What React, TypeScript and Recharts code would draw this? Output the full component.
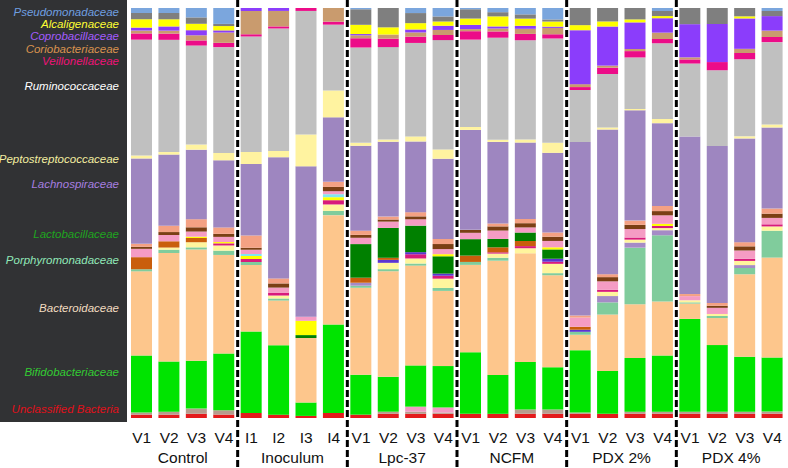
import { BarChart, Bar, XAxis, YAxis } from "recharts";

// sample groups and the tick label of every bar
const groups = ["Control", "Inoculum", "Lpc-37", "NCFM", "PDX 2%", "PDX 4%"];
const sampleLabels = [
  "V1", "V2", "V3", "V4",
  "I1", "I2", "I3", "I4",
  "V1", "V2", "V3", "V4",
  "V1", "V2", "V3", "V4",
  "V1", "V2", "V3", "V4",
  "V1", "V2", "V3", "V4",
];

// relative abundance (%) per sample, stacked bottom -> top
const unclassified = [0.8, 0.8, 1.0, 0.8, 1.2, 0.8, 0.5, 1.2, 0.8, 1.0, 1.0, 1.0, 1.0, 1.0, 1.0, 1.0, 1.0, 1.0, 1.0, 1.0, 1.0, 1.0, 1.0, 1.0];
const otherLow = [0.5, 0.7, 1.2, 1.0, 0, 0, 0, 0, 0, 0.5, 0.5, 0.3, 0, 0, 1.0, 1.0, 0.3, 0, 0.5, 0.5, 0.5, 0.5, 0.5, 0.5];
const lowPink = [0, 0, 0, 0, 0, 0, 0, 0, 0, 0, 1.2, 1.2, 0, 0, 0, 0, 0, 0, 0, 0, 0, 0, 0, 0];
const bifido = [13.7, 12, 11.2, 13.2, 19.5, 16.6, 3.2, 20.7, 9.5, 8.3, 9.8, 9.8, 14.6, 9.3, 11.2, 10, 14.9, 10.2, 12.7, 13.2, 22.4, 16.3, 13.2, 12.7];
const bactero = [20.2, 25.9, 26.1, 22.9, 15.9, 10.7, 15.4, 25.6, 20.7, 25.1, 23.7, 17.8, 20.7, 27.3, 25.6, 21.7, 3.7, 13.4, 12.7, 12.7, 3.7, 6.6, 19.8, 23.4];
const porphyro = [0.5, 0.8, 0.5, 1.0, 0.7, 0.5, 0, 1.0, 0.5, 0.5, 0.5, 0.7, 0.7, 0.7, 0, 0.5, 0.7, 2.9, 13.4, 15.6, 0.3, 0.5, 1.5, 6.3];
const lowLavender = [0, 0, 0, 0, 0, 0, 0, 0, 0.7, 0, 0, 0, 0, 0, 0, 0, 0, 1.5, 1.2, 1.2, 0, 0, 0.7, 0];
const paleYellow = [0, 0.5, 1.2, 1.2, 0, 0.7, 0, 1.5, 0, 1.5, 1.2, 2.2, 0, 1.0, 1.2, 2.2, 0, 1.0, 0.7, 0.5, 0.5, 0.5, 1.0, 1.0];
const lowMagenta = [0, 0, 0, 0.5, 0.7, 0.7, 0, 1.0, 0, 0, 1.0, 0.7, 0, 0.3, 0.5, 0.5, 0, 0.5, 0.5, 0.5, 0, 0, 0.5, 0.5];
const lowPurple = [0, 0, 0, 0, 0, 0, 0, 0, 0, 0.7, 0.5, 0.5, 0, 0, 0, 0.7, 0.5, 0, 0, 0, 0, 0, 0, 0];
const orange = [2.9, 1.5, 1.0, 0, 0, 0, 0, 0, 1.2, 0.5, 0, 0, 1.5, 1.2, 1.2, 0, 0.7, 0, 0, 0, 0, 0, 0, 0];
const lacto = [0, 0, 0, 0, 0, 0, 0.7, 0, 8.0, 7.1, 6.3, 4.1, 3.9, 2.0, 2.0, 2.2, 0, 0, 0, 0, 0, 0, 0, 0];
const lowYellow = [0, 0, 0.3, 0.3, 0.7, 0, 3.4, 0.7, 0, 0, 0, 0.5, 0, 0, 0, 0.5, 0, 0, 0, 0.5, 0, 0, 0, 0];
const cyan = [0, 0, 0, 0, 0.5, 0, 0, 0.7, 0, 0, 0, 0, 0, 0, 0, 0, 0, 0, 0, 0, 0, 0, 0, 0];
const pink = [2.0, 1.5, 1.2, 1.2, 1.0, 1.2, 1.0, 0.7, 1.5, 1.5, 1.5, 1.2, 1.5, 2.0, 1.2, 1.5, 2.2, 2.0, 2.0, 2.0, 1.0, 1.5, 2.0, 1.5];
const brown = [0.5, 0.7, 1.0, 0.7, 0.5, 1.0, 0, 1.0, 0.7, 0.5, 0.7, 1.2, 0.7, 1.0, 1.0, 1.0, 0, 1.0, 1.0, 1.0, 0, 0.5, 1.0, 1.0];
const salmon = [0.7, 1.5, 1.9, 1.5, 2.9, 1.2, 0, 1.2, 1.0, 0.7, 1.0, 1.2, 0, 0.7, 1.0, 1.0, 0.5, 0.7, 1.0, 1.2, 0.5, 0.7, 1.0, 1.2];
const lachno = [20.5, 17, 16.3, 15.6, 17.1, 29, 35.9, 15.1, 20.2, 17.8, 16.8, 19, 23.7, 19.5, 18, 18.8, 41.5, 34.4, 26.1, 19.5, 38, 38.3, 24.9, 19];
const pepto = [0.7, 0.6, 1.2, 1.7, 2.9, 1.5, 7.6, 6.3, 0.7, 0.5, 1.2, 2.2, 0.7, 0.5, 0.7, 2.4, 0, 0.5, 0.3, 1.0, 0, 0, 0.5, 0.7];
const rumino = [27.8, 26.8, 23.2, 24.6, 27.6, 29.3, 29.5, 15.4, 22.7, 22, 22.2, 25.9, 20.7, 24.4, 23.4, 24.6, 12.4, 12.7, 12.2, 17.8, 17.6, 18.5, 18.5, 19.3];
const veillo = [1.5, 1.5, 1.2, 1.0, 0.5, 0.5, 0.7, 0.7, 2.2, 2.0, 1.5, 1.2, 2.0, 1.5, 1.5, 1.0, 0.7, 1.5, 1.5, 1.0, 1.0, 2.0, 1.5, 1.2];
const corio = [0.7, 0.7, 1.2, 2.4, 5.6, 3.7, 0, 3.2, 0.7, 1.0, 1.0, 1.2, 0.5, 0.7, 1.2, 1.5, 0.7, 0.5, 0.5, 1.5, 0.5, 0, 1.0, 1.5];
const copro = [0.7, 1.0, 1.2, 0.5, 0.7, 0.7, 0, 0, 0.3, 0, 0.7, 1.0, 1.0, 0.5, 0.7, 0.3, 12.9, 9.3, 6.3, 3.4, 8.0, 9.3, 7.3, 3.4];
const alcali = [2.0, 1.7, 1.5, 1.0, 0, 0, 0, 0, 2.2, 1.7, 1.5, 1.0, 1.5, 2.4, 1.7, 1.2, 1.2, 1.2, 0.7, 0.5, 0, 0, 0.5, 0];
const darkGrey = [1.5, 1.5, 1.5, 0.5, 0, 0, 0, 0, 3.7, 4.6, 2.4, 1.2, 2.2, 1.0, 1.0, 0.5, 4.1, 3.2, 2.7, 1.2, 3.9, 3.9, 2.0, 1.2];
const pseudo = [1.2, 1.2, 2.2, 3.7, 0, 0, 0, 0, 0.3, 0, 1.2, 2.0, 0.3, 1.0, 1.5, 2.7, 0, 0, 0, 0.7, 0, 0, 0, 0.7];

const taxa = [
  { key: "unclassified", color: "#e41a1c", values: unclassified },
  { key: "otherLow", color: "#b79c8e", values: otherLow },
  { key: "lowPink", color: "#f29bc4", values: lowPink },
  { key: "bifido", color: "#00e400", values: bifido },
  { key: "bactero", color: "#fdc68c", values: bactero },
  { key: "porphyro", color: "#80cc9c", values: porphyro },
  { key: "lowLavender", color: "#a58bc6", values: lowLavender },
  { key: "paleYellow", color: "#fff59d", values: paleYellow },
  { key: "lowMagenta", color: "#d81b7c", values: lowMagenta },
  { key: "lowPurple", color: "#5b35d0", values: lowPurple },
  { key: "orange", color: "#c95e0c", values: orange },
  { key: "lacto", color: "#008000", values: lacto },
  { key: "lowYellow", color: "#ffff00", values: lowYellow },
  { key: "cyan", color: "#7fe8ee", values: cyan },
  { key: "pink", color: "#f59cc4", values: pink },
  { key: "brown", color: "#7b3f14", values: brown },
  { key: "salmon", color: "#f4a183", values: salmon },
  { key: "lachno", color: "#9e86c0", values: lachno },
  { key: "pepto", color: "#fff3a0", values: pepto },
  { key: "rumino", color: "#c0c0c0", values: rumino },
  { key: "veillo", color: "#ec0c88", values: veillo },
  { key: "corio", color: "#c99b6e", values: corio },
  { key: "copro", color: "#8b3dfb", values: copro },
  { key: "alcali", color: "#ffff00", values: alcali },
  { key: "darkGrey", color: "#7f7f7f", values: darkGrey },
  { key: "pseudo", color: "#7ba6dd", values: pseudo },
];

// names shown in the dark side panel, top to bottom
const legendNames = [
  "Pseudomonadaceae", "Alcaligenaceae", "Coprobacillaceae", "Coriobacteriaceae",
  "Veillonellaceae", "Ruminococcaceae", "Peptostreptococcaceae", "Lachnospiraceae",
  "Lactobacillaceae", "Porphyromonadaceae", "Bacteroidaceae", "Bifidobacteriaceae",
  "Unclassified Bacteria",
];
const legendColors = [
  "#6f9fe0", "#ffff33", "#a45cff", "#d9934f", "#ee1278", "#ffffff", "#f3eea0",
  "#a77fe0", "#1fa51f", "#90e8b8", "#f2dcc0", "#33cc33", "#e0101a",
];
const legendTop = [12, 24, 36, 49, 61, 86, 159, 184, 234, 260, 308, 372, 409];

const W = 788;
const H = 468;
const margin = { top: 8, right: 2, bottom: 0, left: 128 };
const band = (W - margin.left - margin.right) / sampleLabels.length;
const font = "'Liberation Sans', Arial, sans-serif";

const data = sampleLabels.map((label, i) => {
  const row: Record<string, string | number> = {
    id: groups[Math.floor(i / 4)] + " " + label,
  };
  taxa.forEach((t) => {
    row[t.key] = t.values[i];
  });
  return row;
});

function SampleTick(props: any) {
  const { x, y, payload } = props;
  const i = payload.index;
  return (
    <g>
      <text x={x} y={y + 17} textAnchor="middle" fontSize={15.5} fill="#111" fontFamily={font}>
        {sampleLabels[i]}
      </text>
      {i % 4 === 0 && (
        <text x={x + band * 1.5} y={y + 37} textAnchor="middle" fontSize={15.5} fill="#111" fontFamily={font}>
          {groups[i / 4]}
        </text>
      )}
      {i % 4 === 3 && i < sampleLabels.length - 1 && (
        <line
          x1={x + band / 2}
          x2={x + band / 2}
          y1={0}
          y2={H}
          stroke="#000"
          strokeWidth={3}
          strokeDasharray="7 3"
        />
      )}
    </g>
  );
}

export default function App() {
  return (
    <div style={{ position: "absolute", left: 0, top: 0, width: W, height: H, background: "#fff" }}>
      <div
        style={{
          position: "absolute",
          left: 0,
          top: 0,
          width: 127,
          height: 422,
          background: "#313234",
        }}
      >
        {legendNames.map((name, i) => (
          <div
            key={name}
            style={{
              position: "absolute",
              right: 8,
              top: legendTop[i] - 7,
              fontFamily: font,
              fontStyle: "italic",
              fontSize: 11.5,
              lineHeight: "14px",
              whiteSpace: "nowrap",
              color: legendColors[i],
            }}
          >
            {name}
          </div>
        ))}
      </div>
      <div style={{ position: "absolute", left: 0, top: 0 }}>
        <BarChart width={W} height={H} data={data} margin={margin} stackOffset="expand" barSize={21}>
          <XAxis
            dataKey="id"
            interval={0}
            height={50}
            axisLine={false}
            tickLine={false}
            tick={<SampleTick />}
          />
          <YAxis hide domain={[0, 1]} />
          {taxa.map((t) => (
            <Bar key={t.key} dataKey={t.key} stackId="a" fill={t.color} isAnimationActive={false} />
          ))}
        </BarChart>
      </div>
    </div>
  );
}
